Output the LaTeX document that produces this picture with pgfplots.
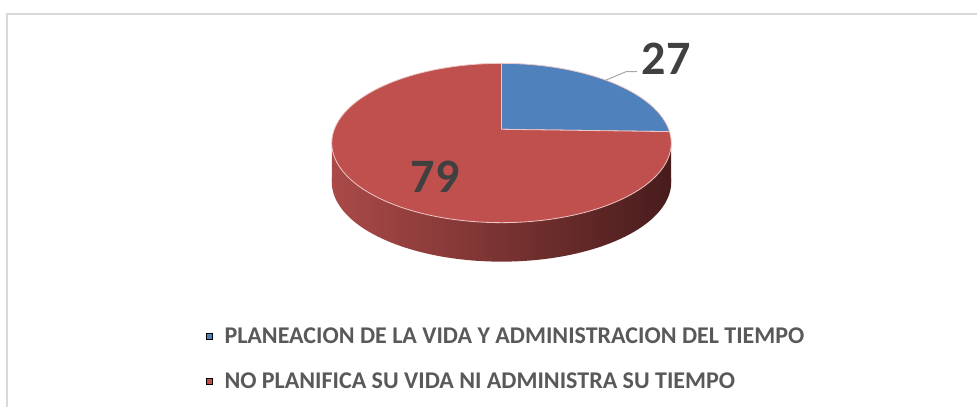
\documentclass[border=0pt]{standalone}
\usepackage{pgfplots}
\usepackage{pgfplotstable}
\pgfplotsset{compat=1.18}
\usepackage{fontspec}
\setmainfont{Carlito}
\definecolor{pblue}{RGB}{79,129,189}
\definecolor{pred}{RGB}{192,80,77}
\definecolor{sideL}{RGB}{170,74,72}
\definecolor{sideM}{RGB}{112,44,43}
\definecolor{sideR}{RGB}{72,28,28}
\definecolor{txt}{RGB}{89,89,89}
\definecolor{num}{RGB}{64,64,64}
\definecolor{frame}{RGB}{217,217,217}
\definecolor{rim}{RGB}{238,200,198}
\definecolor{leader}{RGB}{166,166,166}

\pgfplotstableread{
label value
A 27
B 79
}\piedata

\begin{document}
\begin{tikzpicture}
\pgfplotstablegetelem{0}{value}\of\piedata \let\va\pgfplotsretval
\pgfplotstablegetelem{1}{value}\of\piedata \let\vb\pgfplotsretval
\pgfmathsetmacro\tB{90-360*\va/(\va+\vb)}
% geometry (pixel units)
\def\cx{501.5}\def\cy{129.3}\def\ra{167.2}\def\rb{77.3}\def\pd{0.172}\def\dep{39}
\pgfmathsetmacro\xl{\cx-\ra/sqrt(1-\pd*\pd)}
\pgfmathsetmacro\xr{\cx+\ra/sqrt(1-\pd*\pd)}
\pgfmathsetmacro\ye{\cy+\rb*\pd/(1-\pd*\pd)}
\pgfmathsetmacro\yeb{\ye+\dep}
\begin{axis}[
  at={(0,0)}, anchor=south west,
  scale only axis, width=977pt, height=407pt,
  xmin=0, xmax=977, ymin=0, ymax=407, y dir=reverse,
  hide axis, clip=false,
]
% frame
\draw[frame, line width=1.3pt] (7,407) -- (7,14) -- (977,14);
% side of the pie
\addplot[forget plot, draw=none, left color=sideL, middle color=sideM, right color=sideR,
  variable=\t, domain=0:360, samples=181]
  ({\cx+\ra*cos(\t)/(1+\pd*sin(\t))},{\cy+\dep-\rb*sin(\t)/(1+\pd*sin(\t))}) -- cycle;
\addplot[forget plot, draw=none, left color=sideL, middle color=sideM, right color=sideR]
  coordinates {(\xl,\ye) (\xr,\ye) (\xr,\yeb) (\xl,\yeb)} -- cycle;
% top face slices
\addplot[forget plot, fill=pblue, draw=rim, line width=0.8pt, line join=round,
  variable=\t, domain=\tB:90, samples=91]
  ({\cx+\ra*cos(\t)/(1+\pd*sin(\t))},{\cy-\rb*sin(\t)/(1+\pd*sin(\t))}) -- (\cx,\cy) -- cycle;
\addplot[forget plot, fill=pred, draw=rim, line width=0.8pt, line join=round,
  variable=\t, domain=-270:\tB, samples=271]
  ({\cx+\ra*cos(\t)/(1+\pd*sin(\t))},{\cy-\rb*sin(\t)/(1+\pd*sin(\t))}) -- (\cx,\cy) -- cycle;
% data labels
\addplot[forget plot, leader, line width=1pt] coordinates {(605,80.5) (626,71.7) (637,71.7)};
\node[num, font=\fontsize{48}{48}\selectfont\bfseries, inner sep=0pt] at (666,58.7) {\va};
\node[num, font=\fontsize{48}{48}\selectfont\bfseries, inner sep=0pt] at (435.3,177.2) {\vb};
% legend
\addplot[forget plot, only marks, mark=square*, mark size=3pt, mark options={draw=none, fill=pblue}] coordinates {(209.5,336.2)};
\addplot[forget plot, only marks, mark=square*, mark size=3pt, mark options={draw=none, fill=pred}] coordinates {(209.5,381.3)};
\node[txt, anchor=west, inner sep=0pt, font=\fontsize{24}{28}\selectfont\bfseries] at (224.3,335.8) {PLANEACION DE LA VIDA Y ADMINISTRACION DEL TIEMPO};
\node[txt, anchor=west, inner sep=0pt, font=\fontsize{24}{28}\selectfont\bfseries] at (224.3,380.8) {NO PLANIFICA SU VIDA NI ADMINISTRA SU TIEMPO};
\end{axis}
\pgfresetboundingbox
\path (0,0) rectangle (977pt,407pt);
\end{tikzpicture}
\end{document}
